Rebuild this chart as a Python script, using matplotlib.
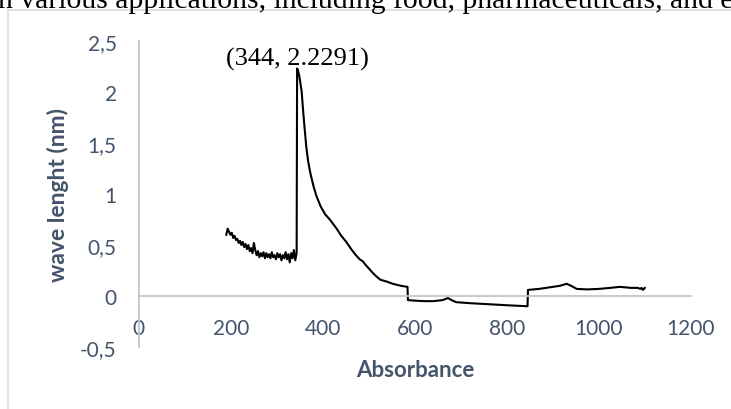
import numpy as np
import matplotlib.pyplot as plt
from matplotlib.lines import Line2D

# UV-Vis scan: noisy baseline, sharp peak at 344 then decay with detector steps
noise_x = list(range(190, 344, 3))
noise_y = [0.60, 0.66, 0.63, 0.60, 0.62, 0.57, 0.59, 0.55, 0.56, 0.52,
           0.54, 0.50, 0.53, 0.48, 0.51, 0.46, 0.50, 0.44, 0.47, 0.42,
           0.52, 0.45, 0.40, 0.44, 0.38, 0.42, 0.39, 0.43, 0.37, 0.42,
           0.38, 0.41, 0.37, 0.43, 0.38, 0.40, 0.36, 0.42, 0.38, 0.41,
           0.35, 0.40, 0.37, 0.43, 0.36, 0.41, 0.33, 0.42, 0.37, 0.45,
           0.35, 0.42]

tail_x = [344, 346, 348, 350, 354, 357, 360, 364, 368, 373, 380, 386, 395,
          405, 415, 430, 440, 451, 460, 470, 480, 487, 492, 500, 510, 517,
          525, 540, 552, 570, 584, 585, 600, 620, 640, 660, 672, 680, 690,
          720, 760, 800, 845, 846, 870, 900, 915, 930, 940, 952, 975, 1000,
          1025, 1046, 1070, 1085, 1090, 1093, 1096, 1100]
tail_y = [2.2291, 2.21, 2.17, 2.12, 2.00, 1.82, 1.66, 1.46, 1.32, 1.20,
          1.07, 0.98, 0.88, 0.80, 0.75, 0.66, 0.59, 0.53, 0.47, 0.41,
          0.36, 0.34, 0.31, 0.27, 0.22, 0.19, 0.16, 0.14, 0.12, 0.10,
          0.09, -0.04, -0.045, -0.05, -0.05, -0.04, -0.02, -0.04, -0.06,
          -0.07, -0.08, -0.09, -0.10, 0.06, 0.07, 0.09, 0.10, 0.12, 0.10,
          0.07, 0.065, 0.07, 0.08, 0.09, 0.08, 0.08, 0.07, 0.08, 0.06, 0.08]

x = np.array(noise_x + tail_x)
y = np.array(noise_y + tail_y)

peak_x, peak_y = 344, 2.2291

xticks = [0, 200, 400, 600, 800, 1000, 1200]
yticks = [-0.5, 0, 0.5, 1, 1.5, 2, 2.5]
ytick_labels = ["-0,5", "0", "0,5", "1", "1,5", "2", "2,5"]

text_col = "#44546A"
axis_col = "#BFC6D2"

fig = plt.figure(figsize=(7.31, 4.10), dpi=100)
ax = fig.add_axes([0.190, 0.151, 0.755, 0.747])

ax.plot(x, y, color="black", linewidth=1.5)

ax.set_xlim(0, 1200)
ax.set_ylim(-0.5, 2.5)
ax.set_xticks(xticks)
ax.set_yticks(yticks)
ax.set_yticklabels(ytick_labels)

for side in ["top", "right"]:
    ax.spines[side].set_visible(False)
ax.spines["bottom"].set_position(("data", 0))
ax.spines["bottom"].set_color(axis_col)
ax.spines["left"].set_color(axis_col)
ax.spines["bottom"].set_linewidth(1.3)
ax.spines["left"].set_linewidth(1.3)

ax.tick_params(axis="both", length=0, labelsize=15, labelcolor=text_col,
               labelfontfamily="Lato")
ax.tick_params(axis="y", pad=16)
ax.tick_params(axis="x", pad=16)

ax.set_xlabel("Absorbance", fontsize=16, fontweight="bold", color=text_col,
              family="Lato", va="center")
ax.xaxis.set_label_coords(0.5, -0.072)
ax.set_ylabel("wave lenght (nm)", fontsize=16.5, fontweight="bold",
              color=text_col, family="Lato", va="center")
ax.yaxis.set_label_coords(-0.147, 0.5)

ax.annotate(f"({peak_x}, {peak_y})", xy=(peak_x, peak_y), xytext=(0, 3),
            textcoords="offset points", ha="center", va="baseline",
            fontsize=19, family="Liberation Serif", color="black")

# chart frame and the body text line above it
fig.add_artist(Line2D([8 / 731, 8 / 731], [0, 1 - 11 / 410],
                      transform=fig.transFigure, color="#D9DCE1", lw=1.2))
fig.add_artist(Line2D([8 / 731, 1], [1 - 11 / 410, 1 - 11 / 410],
                      transform=fig.transFigure, color="#D9DCE1", lw=1.2))
fig.text(-2 / 731, 1 - 8 / 410,
         "n various applications, including food, pharmaceuticals, and e",
         ha="left", va="baseline", fontsize=21.3, family="Liberation Serif",
         color="black")

fig.savefig("out.png", dpi=100)
